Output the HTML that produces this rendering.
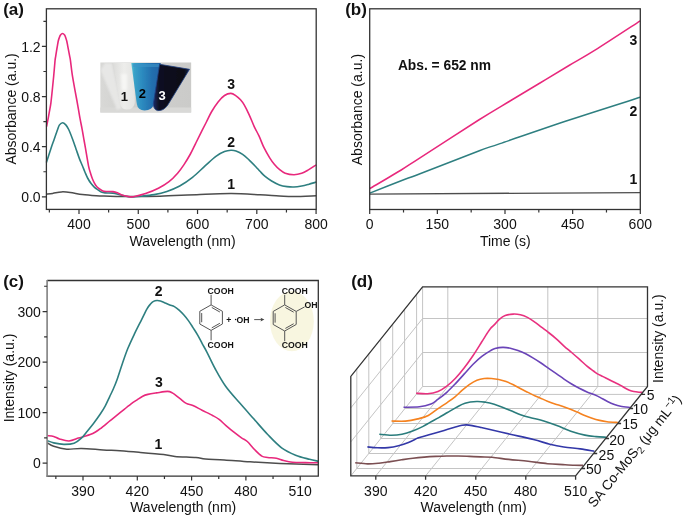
<!DOCTYPE html>
<html><head><meta charset="utf-8"><style>
html,body{margin:0;padding:0;background:#fff;width:685px;height:516px;overflow:hidden;font-family:"Liberation Sans",sans-serif;}
svg{display:block;will-change:transform}
</style></head><body>
<svg width="685" height="516" viewBox="0 0 685 516">
<rect width="685" height="516" fill="#fff"/>
<defs>
<linearGradient id="phbg" x1="0" y1="0" x2="1" y2="0">
<stop offset="0" stop-color="#d8d8d6"/><stop offset="0.35" stop-color="#d0d0ce"/><stop offset="1" stop-color="#cbcbc9"/></linearGradient>
<linearGradient id="v2g" x1="0" y1="0" x2="1" y2="0">
<stop offset="0" stop-color="#5ac4d6"/><stop offset="0.1" stop-color="#3aa2c8"/><stop offset="0.35" stop-color="#2d8cc0"/><stop offset="0.7" stop-color="#236fae"/><stop offset="1" stop-color="#1f64a6"/></linearGradient>
<linearGradient id="v3g" x1="0" y1="0" x2="1" y2="0">
<stop offset="0" stop-color="#1b2a68"/><stop offset="0.15" stop-color="#0f1122"/><stop offset="0.85" stop-color="#0c0c16"/><stop offset="1" stop-color="#16224a"/></linearGradient>
<linearGradient id="v1g" x1="0" y1="0" x2="1" y2="0">
<stop offset="0" stop-color="#dcdcda"/><stop offset="0.5" stop-color="#ededeb"/><stop offset="1" stop-color="#e4e4e2"/></linearGradient>
<filter id="bl1" x="-20%" y="-20%" width="140%" height="140%"><feGaussianBlur stdDeviation="0.9"/></filter>
<filter id="bl2" x="-20%" y="-20%" width="140%" height="140%"><feGaussianBlur stdDeviation="0.45"/></filter>
<clipPath id="phclip"><rect x="100.2" y="62.3" width="91.2" height="50.4"/></clipPath>
</defs>
<g clip-path="url(#phclip)">
<rect x="100.2" y="62.3" width="91.2" height="50.4" fill="url(#phbg)"/>
<rect x="100.2" y="107.5" width="91.2" height="5.2" fill="#d9d9d7"/>
<path d="M100.5,70 L105,63 L112,63 L122,108 L117,110 Z" fill="#ebebea" opacity="0.8" filter="url(#bl1)"/>
<path d="M113,63 L134.5,63 L134.8,103 Q133.5,109.5 127,109.6 Q121.5,109.5 120,104 Z" fill="url(#v1g)" filter="url(#bl2)"/>
<path d="M121,74 L127,74 L127,90 L122,90 Z" fill="#f6f6f4" filter="url(#bl1)"/>
<path d="M131.3,63 L160.8,63 L153.8,104 Q152.5,110.3 144.5,110.4 Q137.8,110.3 136.8,104 Z" fill="url(#v2g)" filter="url(#bl2)"/>
<path d="M132.5,64 L159.5,64 L159,67 L133,67 Z" fill="#3d95c8" opacity="0.6" filter="url(#bl2)"/>
<path d="M159.6,64.3 L189.5,69.3 L167.8,105 Q163.5,111.2 157.5,110.6 Q153.2,109.5 153.4,103.5 Z" fill="url(#v3g)" stroke="#1f3f80" stroke-width="0.8" filter="url(#bl2)"/>
</g>
<text x="124.3" y="100.5" font-family="Liberation Sans, sans-serif" font-size="13" font-weight="bold" fill="#111" text-anchor="middle">1</text>
<text x="142.4" y="97.5" font-family="Liberation Sans, sans-serif" font-size="13" font-weight="bold" fill="#000" text-anchor="middle">2</text>
<text x="162.2" y="99.7" font-family="Liberation Sans, sans-serif" font-size="13" font-weight="bold" fill="#fff" text-anchor="middle">3</text>
<path d="M46.40,194.20 C47.45,194.07 50.20,193.78 52.70,193.40 C55.20,193.02 58.48,192.07 61.40,191.90 C64.32,191.73 66.70,191.95 70.20,192.40 C73.70,192.85 78.05,194.03 82.40,194.60 C86.75,195.17 92.70,195.57 96.30,195.80 C99.90,196.03 98.38,195.87 104.00,196.00 C109.62,196.13 120.67,196.57 130.00,196.60 C139.33,196.63 148.33,196.57 160.00,196.20 C171.67,195.83 188.08,194.83 200.00,194.40 C211.92,193.97 221.50,193.53 231.50,193.60 C241.50,193.67 252.02,194.40 260.00,194.80 C267.98,195.20 273.75,195.70 279.40,196.00 C285.05,196.30 287.77,196.65 293.90,196.60 C300.03,196.55 312.48,195.85 316.20,195.70" fill="none" stroke="#4d4d4d" stroke-width="1.5"/>
<path d="M46.40,162.50 C46.62,161.85 46.97,160.87 47.70,158.60 C48.43,156.33 49.72,152.13 50.80,148.90 C51.88,145.67 53.07,142.43 54.20,139.20 C55.33,135.97 56.72,131.88 57.60,129.50 C58.48,127.12 58.67,126.03 59.50,124.90 C60.33,123.77 61.55,122.70 62.60,122.70 C63.65,122.70 64.78,123.77 65.80,124.90 C66.82,126.03 67.57,127.12 68.70,129.50 C69.83,131.88 71.38,135.97 72.60,139.20 C73.82,142.43 74.87,145.67 76.00,148.90 C77.13,152.13 78.35,155.83 79.40,158.60 C80.45,161.37 81.37,163.23 82.30,165.50 C83.23,167.77 84.12,170.12 85.00,172.20 C85.88,174.28 86.58,176.10 87.60,178.00 C88.62,179.90 89.95,182.05 91.10,183.60 C92.25,185.15 93.28,186.22 94.50,187.30 C95.72,188.38 97.27,189.30 98.40,190.10 C99.53,190.90 100.20,191.63 101.30,192.10 C102.40,192.57 103.05,192.73 105.00,192.90 C106.95,193.07 110.70,192.83 113.00,193.10 C115.30,193.37 116.85,194.02 118.80,194.50 C120.75,194.98 122.67,195.60 124.70,196.00 C126.73,196.40 128.23,196.87 131.00,196.90 C133.77,196.93 137.45,196.58 141.30,196.20 C145.15,195.82 149.83,195.40 154.10,194.60 C158.37,193.80 162.63,192.83 166.90,191.40 C171.17,189.97 175.43,188.33 179.70,186.00 C183.97,183.67 188.23,180.78 192.50,177.40 C196.77,174.02 201.40,169.22 205.30,165.70 C209.20,162.18 212.70,158.65 215.90,156.30 C219.10,153.95 222.00,152.60 224.50,151.60 C227.00,150.60 228.98,150.40 230.90,150.30 C232.82,150.20 234.05,150.33 236.00,151.00 C237.95,151.67 240.40,152.78 242.60,154.30 C244.80,155.82 247.00,158.03 249.20,160.10 C251.40,162.17 254.00,164.83 255.80,166.70 C257.60,168.57 258.50,169.72 260.00,171.30 C261.50,172.88 262.87,174.58 264.80,176.20 C266.73,177.82 269.17,179.55 271.60,181.00 C274.03,182.45 276.82,183.97 279.40,184.90 C281.98,185.83 284.68,186.25 287.10,186.60 C289.52,186.95 291.47,187.10 293.90,187.00 C296.33,186.90 299.28,186.43 301.70,186.00 C304.12,185.57 305.98,185.05 308.40,184.40 C310.82,183.75 314.90,182.48 316.20,182.10" fill="none" stroke="#2e7f80" stroke-width="1.6"/>
<path d="M46.60,126.50 C46.87,125.13 47.70,120.97 48.20,118.30 C48.70,115.63 49.15,113.08 49.60,110.50 C50.05,107.92 50.45,106.22 50.90,102.80 C51.35,99.38 51.83,94.47 52.30,90.00 C52.77,85.53 53.25,80.83 53.70,76.00 C54.15,71.17 54.67,64.28 55.00,61.00 C55.33,57.72 55.45,57.95 55.70,56.30 C55.95,54.65 56.23,52.75 56.50,51.10 C56.77,49.45 57.02,48.05 57.30,46.40 C57.58,44.75 57.88,42.62 58.20,41.20 C58.52,39.78 58.82,38.92 59.20,37.90 C59.58,36.88 59.95,35.83 60.50,35.10 C61.05,34.37 61.82,33.50 62.50,33.50 C63.18,33.50 64.05,34.37 64.60,35.10 C65.15,35.83 65.43,36.88 65.80,37.90 C66.17,38.92 66.48,39.88 66.80,41.20 C67.12,42.52 67.38,44.15 67.70,45.80 C68.02,47.45 68.37,49.35 68.70,51.10 C69.03,52.85 69.40,54.67 69.70,56.30 C70.00,57.93 70.10,58.02 70.50,60.90 C70.90,63.78 71.45,69.23 72.10,73.60 C72.75,77.97 73.62,82.70 74.40,87.10 C75.18,91.50 76.12,96.23 76.80,100.00 C77.48,103.77 77.93,106.47 78.50,109.70 C79.07,112.93 79.60,116.17 80.20,119.40 C80.80,122.63 81.50,125.87 82.10,129.10 C82.70,132.33 83.23,135.58 83.80,138.80 C84.37,142.02 84.72,143.90 85.50,148.40 C86.28,152.90 87.65,161.62 88.50,165.80 C89.35,169.98 89.88,171.17 90.60,173.50 C91.32,175.83 91.98,177.88 92.80,179.80 C93.62,181.72 94.57,183.60 95.50,185.00 C96.43,186.40 97.18,187.22 98.40,188.20 C99.62,189.18 101.37,190.35 102.80,190.90 C104.23,191.45 105.30,191.38 107.00,191.50 C108.70,191.62 111.27,191.38 113.00,191.60 C114.73,191.82 115.93,192.23 117.40,192.80 C118.87,193.37 120.10,194.40 121.80,195.00 C123.50,195.60 125.67,196.12 127.60,196.40 C129.53,196.68 130.40,197.17 133.40,196.70 C136.40,196.23 141.43,195.00 145.60,193.60 C149.77,192.20 154.50,190.28 158.40,188.30 C162.30,186.32 165.80,184.22 169.00,181.70 C172.20,179.18 175.10,176.05 177.60,173.20 C180.10,170.35 181.87,167.80 184.00,164.60 C186.13,161.40 188.45,157.55 190.40,154.00 C192.35,150.45 193.93,146.87 195.70,143.30 C197.47,139.73 199.22,136.15 201.00,132.60 C202.78,129.05 204.62,125.52 206.40,122.00 C208.18,118.48 209.75,114.85 211.70,111.50 C213.65,108.15 215.97,104.57 218.10,101.90 C220.23,99.23 222.37,96.92 224.50,95.50 C226.63,94.08 228.98,93.35 230.90,93.40 C232.82,93.45 234.40,94.73 236.00,95.80 C237.60,96.87 239.13,98.28 240.50,99.80 C241.87,101.32 242.75,102.40 244.20,104.90 C245.65,107.40 247.55,111.23 249.20,114.80 C250.85,118.37 252.45,122.73 254.10,126.30 C255.75,129.87 257.45,132.63 259.10,136.20 C260.75,139.77 262.23,144.10 264.00,147.70 C265.77,151.30 267.95,155.00 269.70,157.80 C271.45,160.60 272.88,162.57 274.50,164.50 C276.12,166.43 277.62,167.95 279.40,169.40 C281.18,170.85 282.78,172.32 285.20,173.20 C287.62,174.08 291.15,174.68 293.90,174.70 C296.65,174.72 299.28,174.10 301.70,173.30 C304.12,172.50 305.98,171.30 308.40,169.90 C310.82,168.50 314.90,165.73 316.20,164.90" fill="none" stroke="#e8287c" stroke-width="1.6"/>
<rect x="46.4" y="8.8" width="269.8" height="200.6" fill="none" stroke="#333333" stroke-width="1.3"/>
<text x="40.6" y="202.0" font-family="Liberation Sans, sans-serif" font-size="14" fill="#111" text-anchor="end">0.0</text>
<text x="40.6" y="151.9" font-family="Liberation Sans, sans-serif" font-size="14" fill="#111" text-anchor="end">0.4</text>
<text x="40.6" y="101.8" font-family="Liberation Sans, sans-serif" font-size="14" fill="#111" text-anchor="end">0.8</text>
<text x="40.6" y="51.6" font-family="Liberation Sans, sans-serif" font-size="14" fill="#111" text-anchor="end">1.2</text>
<text x="79.0" y="228.9" font-family="Liberation Sans, sans-serif" font-size="14" fill="#111" text-anchor="middle">400</text>
<text x="138.3" y="228.9" font-family="Liberation Sans, sans-serif" font-size="14" fill="#111" text-anchor="middle">500</text>
<text x="197.5" y="228.9" font-family="Liberation Sans, sans-serif" font-size="14" fill="#111" text-anchor="middle">600</text>
<text x="256.8" y="228.9" font-family="Liberation Sans, sans-serif" font-size="14" fill="#111" text-anchor="middle">700</text>
<text x="316.1" y="228.9" font-family="Liberation Sans, sans-serif" font-size="14" fill="#111" text-anchor="middle">800</text>
<path d="M41.9,196.80 H46.4 M41.9,146.68 H46.4 M41.9,96.56 H46.4 M41.9,46.44 H46.4 M43.4,171.74 H46.4 M43.4,121.62 H46.4 M43.4,71.50 H46.4 M43.4,21.38 H46.4 M79.00,209.4 V213.9 M138.27,209.4 V213.9 M197.54,209.4 V213.9 M256.81,209.4 V213.9 M316.08,209.4 V213.9 M49.36,209.4 V212.4 M108.63,209.4 V212.4 M167.90,209.4 V212.4 M227.17,209.4 V212.4 M286.44,209.4 V212.4" stroke="#333333" stroke-width="1.2" fill="none"/>
<text x="182.6" y="245.8" font-family="Liberation Sans, sans-serif" font-size="14" fill="#111" text-anchor="middle">Wavelength (nm)</text>
<text transform="translate(15.6,108.9) rotate(-90)" font-family="Liberation Sans, sans-serif" font-size="14" fill="#111" text-anchor="middle">Absorbance (a.u.)</text>
<text x="3.2" y="14.9" font-family="Liberation Sans, sans-serif" font-size="17" font-weight="bold" fill="#111">(a)</text>
<text x="231.2" y="88.6" font-family="Liberation Sans, sans-serif" font-size="14" font-weight="bold" fill="#111" text-anchor="middle">3</text>
<text x="231.2" y="146.5" font-family="Liberation Sans, sans-serif" font-size="14" font-weight="bold" fill="#111" text-anchor="middle">2</text>
<text x="231.2" y="188.9" font-family="Liberation Sans, sans-serif" font-size="14" font-weight="bold" fill="#111" text-anchor="middle">1</text>
<path d="M369.8,194.1 L640.2,192.6" fill="none" stroke="#4d4d4d" stroke-width="1.4"/>
<path d="M369.80,193.10 C375.67,190.80 396.63,182.53 405.00,179.30 C413.37,176.07 407.50,178.50 420.00,173.70 C432.50,168.90 466.67,155.52 480.00,150.50 C493.33,145.48 485.12,148.68 500.00,143.60 C514.88,138.52 545.93,127.72 569.30,120.00 C592.67,112.28 628.38,101.08 640.20,97.30" fill="none" stroke="#2e7f80" stroke-width="1.5"/>
<path d="M369.80,188.60 C375.03,185.50 392.83,175.13 401.20,170.00 C409.57,164.87 407.08,166.13 420.00,157.80 C432.92,149.47 463.70,129.47 478.70,120.00 C493.70,110.53 499.78,107.17 510.00,101.00 C520.22,94.83 530.17,88.92 540.00,83.00 C549.83,77.08 559.83,70.97 569.00,65.50 C578.17,60.03 583.13,57.63 595.00,50.20 C606.87,42.77 632.67,25.78 640.20,20.90" fill="none" stroke="#e8287c" stroke-width="1.5"/>
<rect x="369.7" y="8.8" width="270.6" height="200.7" fill="none" stroke="#333333" stroke-width="1.3"/>
<text x="369.7" y="229.4" font-family="Liberation Sans, sans-serif" font-size="14" fill="#111" text-anchor="middle">0</text>
<text x="437.3" y="229.4" font-family="Liberation Sans, sans-serif" font-size="14" fill="#111" text-anchor="middle">150</text>
<text x="505.0" y="229.4" font-family="Liberation Sans, sans-serif" font-size="14" fill="#111" text-anchor="middle">300</text>
<text x="572.6" y="229.4" font-family="Liberation Sans, sans-serif" font-size="14" fill="#111" text-anchor="middle">450</text>
<text x="640.3" y="229.4" font-family="Liberation Sans, sans-serif" font-size="14" fill="#111" text-anchor="middle">600</text>
<path d="M369.70,209.5 V214.0 M437.35,209.5 V214.0 M505.00,209.5 V214.0 M572.65,209.5 V214.0 M640.30,209.5 V214.0 M403.52,209.5 V212.5 M471.17,209.5 V212.5 M538.82,209.5 V212.5 M606.47,209.5 V212.5" stroke="#333333" stroke-width="1.2" fill="none"/>
<text x="505.3" y="245.6" font-family="Liberation Sans, sans-serif" font-size="14" fill="#111" text-anchor="middle">Time (s)</text>
<text transform="translate(361.6,109.6) rotate(-90)" font-family="Liberation Sans, sans-serif" font-size="14" fill="#111" text-anchor="middle">Absorbance (a.u.)</text>
<text x="345.2" y="14.8" font-family="Liberation Sans, sans-serif" font-size="17" font-weight="bold" fill="#111">(b)</text>
<text x="397.9" y="69.5" font-family="Liberation Sans, sans-serif" font-size="13.8" font-weight="bold" fill="#111">Abs. = 652 nm</text>
<text x="633.5" y="45.4" font-family="Liberation Sans, sans-serif" font-size="14" font-weight="bold" fill="#111" text-anchor="middle">3</text>
<text x="633.5" y="115.6" font-family="Liberation Sans, sans-serif" font-size="14" font-weight="bold" fill="#111" text-anchor="middle">2</text>
<text x="633.5" y="184.3" font-family="Liberation Sans, sans-serif" font-size="14" font-weight="bold" fill="#111" text-anchor="middle">1</text>
<ellipse cx="291.9" cy="321.2" rx="21.9" ry="30.1" fill="#f8f6e0"/>
<path d="M211.10,304.90 L222.40,311.27 L222.40,324.02 L211.10,330.40 L199.80,324.02 L199.80,311.27 Z M211.75,307.45 L219.88,312.04 M219.88,323.26 L211.75,327.85 M201.70,322.24 L201.70,313.06 M284.70,304.90 L296.20,311.42 L296.20,324.48 L284.70,331.00 L273.20,324.48 L273.20,311.42 Z M285.37,307.47 L293.65,312.16 M293.65,323.74 L285.37,328.43 M275.10,322.65 L275.10,313.25 M211.1,294.8 V304.9 M211.1,330.4 V340.3 M284.7,294.8 V304.9 M284.7,331 V341.2 M296.20,311.42 L304.6,306.9 M254.2,319.6 H262" stroke="#555" stroke-width="1" fill="none"/>
<path d="M264.4,319.6 L260.5,317.7 L261.3,319.6 L260.5,321.5 Z" fill="#444"/>
<text x="207.6" y="294.1" font-family="Liberation Sans, sans-serif" font-weight="bold" font-size="8.7" fill="#111">COOH</text>
<text x="207.6" y="347.7" font-family="Liberation Sans, sans-serif" font-weight="bold" font-size="8.7" fill="#111">COOH</text>
<text x="281.8" y="294.1" font-family="Liberation Sans, sans-serif" font-weight="bold" font-size="8.7" fill="#111">COOH</text>
<text x="281.8" y="347.6" font-family="Liberation Sans, sans-serif" font-weight="bold" font-size="8.7" fill="#111">COOH</text>
<text x="304.6" y="307.9" font-family="Liberation Sans, sans-serif" font-weight="bold" font-size="8.7" fill="#111">OH</text>
<text x="228.8" y="322.8" font-family="Liberation Sans, sans-serif" font-weight="bold" font-size="8.7" fill="#111" text-anchor="middle">+</text>
<circle cx="235.6" cy="319.6" r="0.75" fill="#111"/>
<text x="236.6" y="322.8" font-family="Liberation Sans, sans-serif" font-weight="bold" font-size="8.7" fill="#111">OH</text>
<path d="M47.50,442.90 C48.53,443.47 50.48,445.25 53.70,446.30 C56.92,447.35 62.18,448.85 66.80,449.20 C71.42,449.55 75.33,448.28 81.40,448.40 C87.47,448.52 96.77,449.50 103.20,449.90 C109.63,450.30 114.03,450.40 120.00,450.80 C125.97,451.20 131.73,451.67 139.00,452.30 C146.27,452.93 157.60,453.90 163.60,454.60 C169.60,455.30 169.62,456.00 175.00,456.50 C180.38,457.00 190.83,457.18 195.90,457.60 C200.97,458.02 200.65,458.62 205.40,459.00 C210.15,459.38 216.97,459.43 224.40,459.90 C231.83,460.37 240.73,461.22 250.00,461.80 C259.27,462.38 268.63,462.90 280.00,463.40 C291.37,463.90 311.83,464.57 318.20,464.80" fill="none" stroke="#4d4d4d" stroke-width="1.5"/>
<path d="M47.50,435.60 C48.53,435.73 51.70,435.83 53.70,436.40 C55.70,436.97 56.95,438.23 59.50,439.00 C62.05,439.77 65.83,441.15 69.00,441.00 C72.17,440.85 76.00,438.85 78.50,438.10 C81.00,437.35 82.05,437.08 84.00,436.50 C85.95,435.92 88.28,435.35 90.20,434.60 C92.12,433.85 93.82,432.98 95.50,432.00 C97.18,431.02 97.80,430.63 100.30,428.70 C102.80,426.77 107.10,423.15 110.50,420.40 C113.90,417.65 117.32,414.92 120.70,412.20 C124.08,409.48 128.02,406.20 130.80,404.10 C133.58,402.00 135.42,400.92 137.40,399.60 C139.38,398.28 140.95,397.07 142.70,396.20 C144.45,395.33 145.58,394.95 147.90,394.40 C150.22,393.85 153.33,393.40 156.60,392.90 C159.87,392.40 164.88,391.40 167.50,391.40 C170.12,391.40 170.27,391.73 172.30,392.90 C174.33,394.07 177.37,396.65 179.70,398.40 C182.03,400.15 184.10,402.20 186.30,403.40 C188.50,404.60 190.28,404.47 192.90,405.60 C195.52,406.73 198.72,408.55 202.00,410.20 C205.28,411.85 209.75,413.97 212.60,415.50 C215.45,417.03 216.92,417.77 219.10,419.40 C221.28,421.03 223.28,423.22 225.70,425.30 C228.12,427.38 230.97,429.82 233.60,431.90 C236.23,433.98 239.22,436.20 241.50,437.80 C243.78,439.40 245.13,439.55 247.30,441.50 C249.47,443.45 252.08,447.07 254.50,449.50 C256.92,451.93 259.62,454.77 261.80,456.10 C263.98,457.43 265.17,457.13 267.60,457.50 C270.03,457.87 273.73,457.80 276.40,458.30 C279.07,458.80 280.93,459.85 283.60,460.50 C286.27,461.15 288.75,461.85 292.40,462.20 C296.05,462.55 301.20,462.50 305.50,462.60 C309.80,462.70 316.08,462.77 318.20,462.80" fill="none" stroke="#e8287c" stroke-width="1.6"/>
<path d="M47.50,440.70 C48.53,441.07 50.97,442.28 53.70,442.90 C56.43,443.52 60.50,444.35 63.90,444.40 C67.30,444.45 71.18,444.25 74.10,443.20 C77.02,442.15 79.25,440.05 81.40,438.10 C83.55,436.15 84.98,433.95 87.00,431.50 C89.02,429.05 91.28,426.32 93.50,423.40 C95.72,420.48 98.33,416.93 100.30,414.00 C102.27,411.07 103.73,408.70 105.30,405.80 C106.87,402.90 108.33,399.48 109.70,396.60 C111.07,393.72 112.27,391.37 113.50,388.50 C114.73,385.63 115.60,383.62 117.10,379.40 C118.60,375.18 120.70,368.38 122.50,363.20 C124.30,358.02 125.87,353.27 127.90,348.30 C129.93,343.33 132.43,338.15 134.70,333.40 C136.97,328.65 139.45,323.90 141.50,319.80 C143.55,315.70 145.50,311.43 147.00,308.80 C148.50,306.17 149.42,305.23 150.50,304.00 C151.58,302.77 152.42,301.98 153.50,301.40 C154.58,300.82 155.83,300.57 157.00,300.50 C158.17,300.43 159.15,300.60 160.50,301.00 C161.85,301.40 163.55,302.25 165.10,302.90 C166.65,303.55 168.25,304.28 169.80,304.90 C171.35,305.52 172.85,305.73 174.40,306.60 C175.95,307.47 177.55,308.73 179.10,310.10 C180.65,311.47 182.15,313.05 183.70,314.80 C185.25,316.55 186.85,318.47 188.40,320.60 C189.95,322.73 191.45,325.18 193.00,327.60 C194.55,330.02 196.15,332.40 197.70,335.10 C199.25,337.80 200.75,340.93 202.30,343.80 C203.85,346.67 204.83,348.10 207.00,352.30 C209.17,356.50 212.17,363.30 215.30,369.00 C218.43,374.70 221.72,380.82 225.80,386.50 C229.88,392.18 235.15,397.72 239.80,403.10 C244.45,408.48 249.05,413.57 253.70,418.80 C258.35,424.03 263.05,429.67 267.70,434.50 C272.35,439.33 276.95,444.35 281.60,447.80 C286.25,451.25 290.95,453.28 295.60,455.20 C300.25,457.12 305.73,458.30 309.50,459.30 C313.27,460.30 316.75,460.88 318.20,461.20" fill="none" stroke="#2e7f80" stroke-width="1.6"/>
<path d="M47.10,280.50 H318.30 V476.05 H46.50" fill="none" stroke="#333333" stroke-width="1.3"/>
<path d="M47.10,279.90 V476.65" fill="none" stroke="#808080" stroke-width="1.6"/>
<text x="40.8" y="468.2" font-family="Liberation Sans, sans-serif" font-size="14" fill="#111" text-anchor="end">0</text>
<text x="40.8" y="417.6" font-family="Liberation Sans, sans-serif" font-size="14" fill="#111" text-anchor="end">100</text>
<text x="40.8" y="367.1" font-family="Liberation Sans, sans-serif" font-size="14" fill="#111" text-anchor="end">200</text>
<text x="40.8" y="316.6" font-family="Liberation Sans, sans-serif" font-size="14" fill="#111" text-anchor="end">300</text>
<text x="83.0" y="495.6" font-family="Liberation Sans, sans-serif" font-size="14" fill="#111" text-anchor="middle">390</text>
<text x="137.3" y="495.6" font-family="Liberation Sans, sans-serif" font-size="14" fill="#111" text-anchor="middle">420</text>
<text x="191.6" y="495.6" font-family="Liberation Sans, sans-serif" font-size="14" fill="#111" text-anchor="middle">450</text>
<text x="245.9" y="495.6" font-family="Liberation Sans, sans-serif" font-size="14" fill="#111" text-anchor="middle">480</text>
<text x="300.2" y="495.6" font-family="Liberation Sans, sans-serif" font-size="14" fill="#111" text-anchor="middle">510</text>
<path d="M42.6,463.20 H47.1 M42.6,412.65 H47.1 M42.6,362.10 H47.1 M42.6,311.55 H47.1 M44.1,437.93 H47.1 M44.1,387.38 H47.1 M44.1,336.82 H47.1 M44.1,286.27 H47.1 M83.00,476.1 V480.6 M137.30,476.1 V480.6 M191.60,476.1 V480.6 M245.90,476.1 V480.6 M300.20,476.1 V480.6 M55.85,476.1 V479.1 M110.15,476.1 V479.1 M164.45,476.1 V479.1 M218.75,476.1 V479.1 M273.05,476.1 V479.1" stroke="#333333" stroke-width="1.2" fill="none"/>
<text x="183.2" y="511.8" font-family="Liberation Sans, sans-serif" font-size="14" fill="#111" text-anchor="middle">Wavelength (nm)</text>
<text transform="translate(13.6,378) rotate(-90)" font-family="Liberation Sans, sans-serif" font-size="14" fill="#111" text-anchor="middle">Intensity (a.u.)</text>
<text x="3.2" y="287.2" font-family="Liberation Sans, sans-serif" font-size="17" font-weight="bold" fill="#111">(c)</text>
<text x="158.7" y="296" font-family="Liberation Sans, sans-serif" font-size="14" font-weight="bold" fill="#111" text-anchor="middle">2</text>
<text x="158.9" y="386.8" font-family="Liberation Sans, sans-serif" font-size="14" font-weight="bold" fill="#111" text-anchor="middle">3</text>
<text x="158.5" y="449.3" font-family="Liberation Sans, sans-serif" font-size="14" font-weight="bold" fill="#111" text-anchor="middle">1</text>
<path d="M422.60,352.50 H647.50 M350.80,441.90 L422.60,352.50 M422.60,318.50 H647.50 M350.80,407.90 L422.60,318.50 M422.60,386.50 H647.50 M422.60,286.80 V386.50 M447.80,286.80 V386.50 M375.80,475.90 L447.80,386.50 M497.60,286.80 V386.50 M425.60,475.90 L497.60,386.50 M547.80,286.80 V386.50 M475.80,475.90 L547.80,386.50 M597.80,286.80 V386.50 M525.80,475.90 L597.80,386.50 M356.80,468.50 H581.60 M356.80,368.91 V468.50 M368.80,453.50 H593.60 M368.80,353.94 V453.50 M380.70,438.50 H605.50 M380.70,339.09 V438.50 M392.70,423.50 H617.50 M392.70,324.11 V423.50 M404.60,408.50 H629.40 M404.60,309.26 V408.50 M416.60,394.40 H641.40 M416.60,294.29 V394.40 M350.80,475.90 L422.60,386.50" stroke="#c4c4c4" stroke-width="1" fill="none"/>
<path d="M416.10,393.20 C418.00,393.28 423.85,393.98 427.50,393.70 C431.15,393.42 434.78,392.75 438.00,391.50 C441.22,390.25 443.88,388.40 446.80,386.20 C449.72,384.00 452.58,381.37 455.50,378.30 C458.42,375.23 461.37,371.60 464.30,367.80 C467.23,364.00 470.18,359.83 473.10,355.50 C476.02,351.17 479.48,345.47 481.80,341.80 C484.12,338.13 485.55,335.72 487.00,333.50 C488.45,331.28 489.22,330.02 490.50,328.50 C491.78,326.98 493.23,325.92 494.70,324.40 C496.17,322.88 497.55,320.87 499.30,319.40 C501.05,317.93 502.88,316.48 505.20,315.60 C507.52,314.72 510.67,314.23 513.20,314.10 C515.73,313.97 518.03,314.25 520.40,314.80 C522.77,315.35 525.07,316.22 527.40,317.40 C529.73,318.58 532.07,320.27 534.40,321.90 C536.73,323.53 539.07,325.45 541.40,327.20 C543.73,328.95 545.92,330.47 548.40,332.40 C550.88,334.33 553.70,336.52 556.30,338.80 C558.90,341.08 561.45,343.82 564.00,346.10 C566.55,348.38 569.05,350.32 571.60,352.50 C574.15,354.68 576.73,356.93 579.30,359.20 C581.87,361.47 584.63,364.13 587.00,366.10 C589.37,368.07 591.83,369.75 593.50,371.00 C595.17,372.25 595.40,372.67 597.00,373.60 C598.60,374.53 601.05,375.58 603.10,376.60 C605.15,377.62 607.25,378.67 609.30,379.70 C611.35,380.73 613.52,381.85 615.40,382.80 C617.28,383.75 619.00,384.53 620.60,385.40 C622.20,386.27 623.53,387.20 625.00,388.00 C626.47,388.80 627.93,389.62 629.40,390.20 C630.87,390.78 632.20,391.17 633.80,391.50 C635.40,391.83 637.55,392.05 639.00,392.20 C640.45,392.35 641.92,392.37 642.50,392.40" fill="none" stroke="#e8317f" stroke-width="1.6"/>
<path d="M403.50,407.20 C406.15,407.13 414.82,407.35 419.40,406.80 C423.98,406.25 427.98,405.08 431.00,403.90 C434.02,402.72 434.87,401.63 437.50,399.70 C440.13,397.77 443.80,394.98 446.80,392.30 C449.80,389.62 452.58,386.67 455.50,383.60 C458.42,380.53 461.37,377.12 464.30,373.90 C467.23,370.68 470.18,367.22 473.10,364.30 C476.02,361.38 478.88,358.68 481.80,356.40 C484.72,354.12 488.40,351.90 490.60,350.60 C492.80,349.30 492.98,349.13 495.00,348.60 C497.02,348.07 500.15,347.47 502.70,347.40 C505.25,347.33 507.75,347.68 510.30,348.20 C512.85,348.72 515.43,349.57 518.00,350.50 C520.57,351.43 523.15,352.53 525.70,353.80 C528.25,355.07 530.75,356.57 533.30,358.10 C535.85,359.63 538.45,361.28 541.00,363.00 C543.55,364.72 546.05,366.62 548.60,368.40 C551.15,370.18 553.73,371.92 556.30,373.70 C558.87,375.48 561.45,377.38 564.00,379.10 C566.55,380.82 569.05,382.47 571.60,384.00 C574.15,385.53 576.73,386.98 579.30,388.30 C581.87,389.62 584.45,390.82 587.00,391.90 C589.55,392.98 592.43,393.88 594.60,394.80 C596.77,395.72 597.93,396.32 600.00,397.40 C602.07,398.48 604.60,400.10 607.00,401.30 C609.40,402.50 612.13,403.77 614.40,404.60 C616.67,405.43 617.92,405.82 620.60,406.30 C623.28,406.78 628.85,407.30 630.50,407.50" fill="none" stroke="#6a44b8" stroke-width="1.6"/>
<path d="M391.50,421.00 C393.83,421.02 401.12,421.45 405.50,421.10 C409.88,420.75 414.00,419.83 417.80,418.90 C421.60,417.97 424.80,417.30 428.30,415.50 C431.80,413.70 435.60,410.30 438.80,408.10 C442.00,405.90 444.80,404.18 447.50,402.30 C450.20,400.42 452.53,398.82 455.00,396.80 C457.47,394.78 459.87,392.27 462.30,390.20 C464.73,388.13 467.17,386.07 469.60,384.40 C472.03,382.73 474.47,381.18 476.90,380.20 C479.33,379.22 481.77,378.78 484.20,378.50 C486.63,378.22 489.07,378.33 491.50,378.50 C493.93,378.67 496.37,378.98 498.80,379.50 C501.23,380.02 503.67,380.72 506.10,381.60 C508.53,382.48 510.97,383.60 513.40,384.80 C515.83,386.00 518.27,387.53 520.70,388.80 C523.13,390.07 525.57,391.20 528.00,392.40 C530.43,393.60 533.30,395.08 535.30,396.00 C537.30,396.92 537.98,397.03 540.00,397.90 C542.02,398.77 544.92,400.20 547.40,401.20 C549.88,402.20 552.42,403.07 554.90,403.90 C557.38,404.73 559.82,405.37 562.30,406.20 C564.78,407.03 567.32,407.92 569.80,408.90 C572.28,409.88 574.72,411.00 577.20,412.10 C579.68,413.20 582.22,414.47 584.70,415.50 C587.18,416.53 589.62,417.48 592.10,418.30 C594.58,419.12 597.12,419.83 599.60,420.40 C602.08,420.97 603.95,421.35 607.00,421.70 C610.05,422.05 616.08,422.37 617.90,422.50" fill="none" stroke="#f5821f" stroke-width="1.6"/>
<path d="M379.30,434.30 C381.33,434.47 387.72,435.30 391.50,435.30 C395.28,435.30 398.48,435.00 402.00,434.30 C405.52,433.60 409.08,432.42 412.60,431.10 C416.12,429.78 420.20,427.85 423.10,426.40 C426.00,424.95 427.38,423.87 430.00,422.40 C432.62,420.93 435.88,419.25 438.80,417.60 C441.72,415.95 444.58,414.20 447.50,412.50 C450.42,410.80 453.38,408.95 456.30,407.40 C459.22,405.85 461.60,404.18 465.00,403.20 C468.40,402.22 473.28,401.67 476.70,401.50 C480.12,401.33 482.58,401.75 485.50,402.20 C488.42,402.65 491.28,403.33 494.20,404.20 C497.12,405.07 500.07,406.25 503.00,407.40 C505.93,408.55 508.88,409.88 511.80,411.10 C514.72,412.32 517.47,413.62 520.50,414.70 C523.53,415.78 526.67,416.73 530.00,417.60 C533.33,418.47 536.03,418.58 540.50,419.90 C544.97,421.22 551.75,423.62 556.80,425.50 C561.85,427.38 566.12,429.60 570.80,431.20 C575.48,432.80 580.70,434.20 584.90,435.10 C589.10,436.00 592.45,436.25 596.00,436.60 C599.55,436.95 604.50,437.10 606.20,437.20" fill="none" stroke="#2a7c7c" stroke-width="1.6"/>
<path d="M367.40,446.90 C369.08,447.05 374.07,447.68 377.50,447.80 C380.93,447.92 384.50,447.95 388.00,447.60 C391.50,447.25 394.98,446.60 398.50,445.70 C402.02,444.80 405.88,443.47 409.10,442.20 C412.32,440.93 415.47,439.07 417.80,438.10 C420.13,437.13 420.47,437.18 423.10,436.40 C425.73,435.62 430.10,434.40 433.60,433.40 C437.10,432.40 440.60,431.42 444.10,430.40 C447.60,429.38 451.62,428.15 454.60,427.30 C457.58,426.45 460.02,425.70 462.00,425.30 C463.98,424.90 464.82,424.85 466.50,424.90 C468.18,424.95 469.85,425.20 472.10,425.60 C474.35,426.00 477.57,426.77 480.00,427.30 C482.43,427.83 481.68,427.65 486.70,428.80 C491.72,429.95 502.30,432.42 510.10,434.20 C517.90,435.98 526.88,437.83 533.50,439.50 C540.12,441.17 544.75,442.95 549.80,444.20 C554.85,445.45 558.73,446.22 563.80,447.00 C568.87,447.78 575.10,448.20 580.20,448.90 C585.30,449.60 592.03,450.82 594.40,451.20" fill="none" stroke="#3338a8" stroke-width="1.6"/>
<path d="M355.20,462.80 C357.27,462.98 363.65,463.83 367.60,463.90 C371.55,463.97 375.13,463.58 378.90,463.20 C382.67,462.82 386.42,462.17 390.20,461.60 C393.98,461.03 397.82,460.37 401.60,459.80 C405.38,459.23 409.13,458.65 412.90,458.20 C416.67,457.75 420.43,457.40 424.20,457.10 C427.97,456.80 431.73,456.58 435.50,456.40 C439.27,456.22 443.03,456.07 446.80,456.00 C450.57,455.93 454.33,455.93 458.10,456.00 C461.87,456.07 465.63,456.25 469.40,456.40 C473.17,456.55 476.92,456.75 480.70,456.90 C484.48,457.05 487.43,456.88 492.10,457.30 C496.77,457.72 502.70,458.73 508.70,459.40 C514.70,460.07 521.63,460.58 528.10,461.30 C534.57,462.02 541.68,463.15 547.50,463.70 C553.32,464.25 558.48,464.35 563.00,464.60 C567.52,464.85 571.27,465.07 574.60,465.20 C577.93,465.33 581.60,465.37 583.00,465.40" fill="none" stroke="#7b4f52" stroke-width="1.6"/>
<path d="M350.80,376.40 V475.90 H575.60 L647.50,386.50 V286.80 H422.60 Z M375.80,475.90 V479.70 M425.60,475.90 V479.70 M475.80,475.90 V479.70 M525.80,475.90 V479.70 M575.60,475.90 V479.70 M581.60,468.50 H585.10 M593.70,453.50 H597.20 M605.60,438.50 H609.10 M617.60,423.50 H621.10 M629.60,408.50 H633.10 M641.60,394.40 H645.10" stroke="#333333" stroke-width="1.3" fill="none" stroke-linejoin="miter"/>
<text x="375.8" y="495.6" font-family="Liberation Sans, sans-serif" font-size="14" fill="#111" text-anchor="middle">390</text>
<text x="425.8" y="495.6" font-family="Liberation Sans, sans-serif" font-size="14" fill="#111" text-anchor="middle">420</text>
<text x="475.7" y="495.6" font-family="Liberation Sans, sans-serif" font-size="14" fill="#111" text-anchor="middle">450</text>
<text x="525.7" y="495.6" font-family="Liberation Sans, sans-serif" font-size="14" fill="#111" text-anchor="middle">480</text>
<text x="575.7" y="495.6" font-family="Liberation Sans, sans-serif" font-size="14" fill="#111" text-anchor="middle">510</text>
<text x="473.6" y="512.3" font-family="Liberation Sans, sans-serif" font-size="14" fill="#111" text-anchor="middle">Wavelength (nm)</text>
<text x="650.7" y="400.4" font-family="Liberation Sans, sans-serif" font-size="14" fill="#111" text-anchor="middle">5</text>
<text x="640.2" y="414.2" font-family="Liberation Sans, sans-serif" font-size="14" fill="#111" text-anchor="middle">10</text>
<text x="630.1" y="428.9" font-family="Liberation Sans, sans-serif" font-size="14" fill="#111" text-anchor="middle">15</text>
<text x="617.0" y="444.8" font-family="Liberation Sans, sans-serif" font-size="14" fill="#111" text-anchor="middle">20</text>
<text x="606.4" y="459.8" font-family="Liberation Sans, sans-serif" font-size="14" fill="#111" text-anchor="middle">25</text>
<text x="593.7" y="474.3" font-family="Liberation Sans, sans-serif" font-size="14" fill="#111" text-anchor="middle">50</text>
<text transform="translate(662.9,338.6) rotate(-90)" font-family="Liberation Sans, sans-serif" font-size="14" fill="#111" text-anchor="middle">Intensity (a.u.)</text>
<text transform="translate(638.2,454) rotate(-51)" font-family="Liberation Sans, sans-serif" font-size="13.7" fill="#111" text-anchor="middle">SA Co-MoS<tspan font-size="10" dy="3">2</tspan><tspan dy="-3"> (μg mL</tspan><tspan font-size="10" dy="-5">−1</tspan><tspan dy="5">)</tspan></text>
<text x="351.2" y="286.8" font-family="Liberation Sans, sans-serif" font-size="17" font-weight="bold" fill="#111">(d)</text>
</svg>
</body></html>
